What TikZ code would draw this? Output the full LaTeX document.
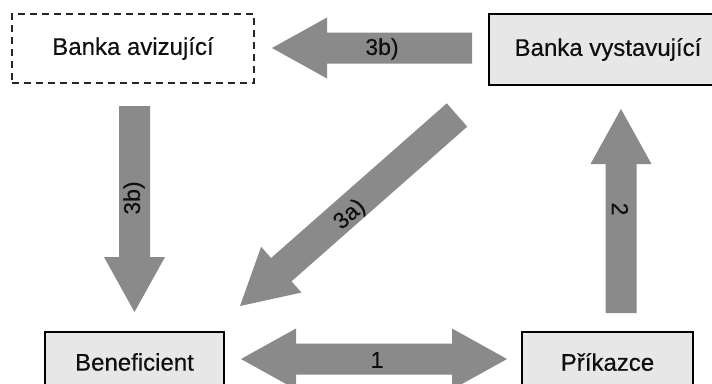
\documentclass[tikz,border=0pt]{standalone}
\usepackage{fontspec}
\setmainfont{Liberation Sans}[FakeBold=0.4]
\usetikzlibrary{calc}
\definecolor{arrgray}{RGB}{138,138,138}
\definecolor{boxgray}{RGB}{231,231,231}
\definecolor{txt}{RGB}{15,15,15}
\tikzset{
  arrowbody/.style={fill=arrgray},
  boxbase/.style={rectangle, inner sep=0pt, text=txt, font=\fontsize{24}{28}\selectfont},
  solidbox/.style={boxbase, draw=black, line width=1.3pt, fill=boxgray},
  dashbox/.style={boxbase, draw=black!85, line width=1.1pt, dash pattern=on 7pt off 5pt, fill=white},
  arrlabel/.style={inner sep=0pt, text=txt, font=\fontsize{23}{28}\selectfont}
}
\newcommand\blockarr[2]{%
  \coordinate (hb) at ($(#2)!55pt!(#1)$);
  \fill[arrowbody] ($(#1)!15.5pt!90:(#2)$) -- ($(hb)!15.5pt!90:(#2)$) -- ($(hb)!30.5pt!90:(#2)$) -- (#2)
     -- ($(hb)!30.5pt!-90:(#2)$) -- ($(hb)!15.5pt!-90:(#2)$) -- ($(#1)!15.5pt!-90:(#2)$) -- cycle;}
\newcommand\doublearr[2]{%
  \coordinate (ha) at ($(#1)!55pt!(#2)$);
  \coordinate (hc) at ($(#2)!55pt!(#1)$);
  \fill[arrowbody] (#1) -- ($(ha)!30.5pt!90:(#2)$) -- ($(ha)!15.5pt!90:(#2)$) -- ($(hc)!15.5pt!-90:(#1)$)
     -- ($(hc)!30.5pt!-90:(#1)$) -- (#2) -- ($(hc)!30.5pt!90:(#1)$) -- ($(hc)!15.5pt!90:(#1)$)
     -- ($(ha)!15.5pt!-90:(#2)$) -- ($(ha)!30.5pt!-90:(#2)$) -- cycle;}
\begin{document}
\begin{tikzpicture}[x=1pt,y=-1pt]
  \useasboundingbox (0,0) rectangle (712,383);
  \clip (0,0) rectangle (712,383);
  \fill[white] (0,0) rectangle (712,383);
  % boxes
  \node[dashbox, minimum width=242pt, minimum height=69pt] (ava) at (133,48.5) {Banka avizující};
  \node[solidbox, minimum width=238pt, minimum height=71pt] (vys) at (608,49.5) {Banka vystavující};
  \node[solidbox, minimum width=179pt, minimum height=60pt] (ben) at (134.5,362) {Beneficient};
  \node[solidbox, minimum width=171pt, minimum height=60pt] (pri) at (607.5,362) {Příkazce};
  % arrow end points
  \coordinate (h3bt) at (472,48);
  \coordinate (h3bh) at (272,48);
  \coordinate (v3bt) at (134.5,106);
  \coordinate (v3bh) at (134.5,312);
  \coordinate (d3at) at (457,115);
  \coordinate (d3ah) at (240,306);
  \coordinate (u2t) at (621,313);
  \coordinate (u2h) at (621,109);
  \coordinate (d1a) at (241,359);
  \coordinate (d1b) at (507,359);
  % arrows
  \blockarr{h3bt}{h3bh}
  \blockarr{v3bt}{v3bh}
  \blockarr{d3at}{d3ah}
  \blockarr{u2t}{u2h}
  \doublearr{d1a}{d1b}
  % labels
  \node[arrlabel] (l3bh) at (382,49) {3b)};
  \node[arrlabel, rotate=90] (l3bv) at (134,198) {3b)};
  \node[arrlabel, rotate=41.3] (l3a) at (350,215) {3a)};
  \node[arrlabel, rotate=-90] (l2) at (620,209) {2};
  \node[arrlabel] (l1) at (377,360) {1};
\end{tikzpicture}
\end{document}
